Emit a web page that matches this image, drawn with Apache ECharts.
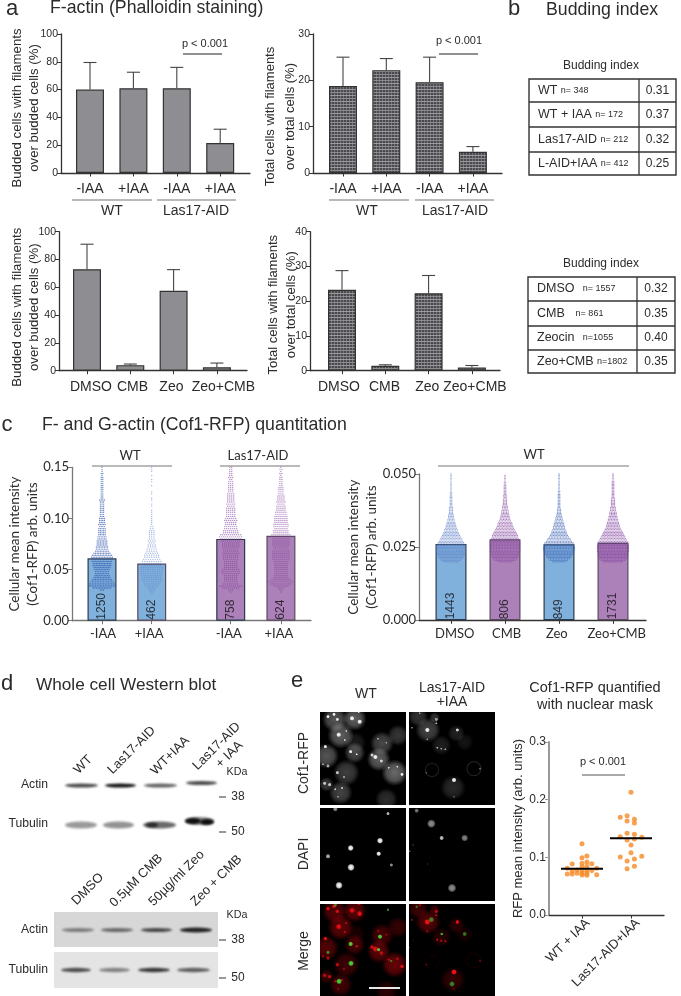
<!DOCTYPE html>
<html><head><meta charset="utf-8">
<style>html,body{margin:0;padding:0;background:#fff}#c{width:681px;height:996px}</style>
<script src="https://cdn.jsdelivr.net/npm/echarts@6/dist/echarts.min.js"></script>
</head><body><div id="c"></div>
<script>
// ---------- data ----------
const iaaLabels = ['-IAA','+IAA','-IAA','+IAA'];
const drugLabels = ['DMSO','CMB','Zeo','Zeo+CMB'];
const a1Values = [60,61,61,21.5];
const a1Tops   = [79.5,72.5,76,31.5];
const a2Values = [18.8,22.2,19.6,4.6];
const a2Tops   = [25,24.7,25,5.7];
const a3Values = [73,4,57.5,2.5];
const a3Tops   = [91,4.8,72.7,5.5];
const a4Values = [23.3,1.4,22.3,0.9];
const a4Tops   = [28.8,1.7,27.4,1.5];
const c1Values = [0.061,0.056,0.080,0.083];
const c1Counts = ['1250','462','758','624'];
const c2Values = [0.0261,0.0277,0.0260,0.0265];
const c2Counts = ['1443','806','849','1731'];
const tableA = [['WT','n= 348','0.31'],['WT + IAA','n= 172','0.37'],['Las17-AID','n= 212','0.32'],['L-AID+IAA','n= 412','0.25']];
const tableB = [['DMSO','  n= 1557','0.32'],['CMB','   n= 861','0.35'],['Zeocin','  n=1055','0.40'],['Zeo+CMB','n=1802','0.35']];
// dots in each swarm row, from 0.026 upward in 0.002 steps
const swarmWtMinus = [0,0,3,12,17,17,15,13,11,10,9,9,10,11,12,12,13,13,14,13,11,9,8,8,7,7,7,6,6,5,5,5,5,4,5,4,4,4,3,3,3,3,3,3,3,3,4,2,2,2,2,2,2,2,2,2,2,2,1,2,1,1,1];
const swarmWtPlus  = [1,2,3,4,6,7,8,9,9,9,10,10,10,10,9,9,9,8,7,7,6,5,5,4,4,3,4,3,3,3,3,3,2,2,1,1,1,1,1,1,1,1,0,1,1,0,1,1,0,1,1,0,0,1,0,1,1,0,1,0,1,1,1];
const swarmLasMinus= [0,1,3,9,12,8,7,7,7,7,9,10,9,7,7,7,7,8,8,8,9,8,8,9,9,9,10,11,12,11,8,8,7,7,6,6,7,6,5,5,5,5,5,4,5,4,4,4,4,4,3,3,3,3,3,3,2,3,2,2,2,2,2];
const swarmLasPlus = [0,1,2,4,8,11,13,10,8,7,7,7,7,7,7,7,8,9,9,9,9,9,8,8,9,9,9,9,10,10,8,8,7,8,8,7,7,7,7,6,6,5,5,5,4,5,4,4,4,3,3,3,3,2,2,2,2,2,1,2,1,2,1];
// dots in each swarm row, from 0.020 upward in 0.0005 steps
const swarmDmso = [10,13,15,16,17,18,19,20,20,19,19,20,18,17,16,15,14,13,12,11,10,9,9,8,7,7,6,6,5,5,4,4,4,3,3,3,3,3,2,2,2,2,2,2,2,2,1,2,1,1,1,1,1,1,1,1,1,1,1,1,1];
const swarmCmb  = [10,14,16,17,18,19,19,20,20,20,20,20,20,20,19,19,18,17,17,16,15,14,13,12,11,10,10,9,8,7,7,6,6,5,5,5,4,4,4,3,3,3,3,3,2,3,2,2,2,2,2,2,2,1,2,1,1,1,1,1,0];
const swarmZeo  = [9,12,14,16,17,18,20,20,21,21,21,20,20,19,17,16,15,13,12,11,10,10,9,8,8,7,7,6,6,5,5,4,4,3,3,3,3,2,2,2,2,2,2,2,2,2,2,1,2,1,1,1,1,1,1,1,1,1,1,1,1];
const swarmZeoCmb=[13,16,18,19,20,20,20,21,21,21,21,21,20,20,19,18,17,16,15,14,13,12,11,10,9,9,8,8,7,7,6,6,5,5,5,4,4,4,3,3,3,3,3,3,2,2,2,2,2,2,2,2,2,2,2,2,1,1,1,1,1];
const eLabels = ['WT + IAA','Las17-AID+IAA'];
const eMeans = [0.08,0.133];
const eWt = [[0,.1236],[.1,.1023],[0,.0994],[-.2,.0884],[.1,.0919],[0,.0896],[.2,.089],[0,.0838],[.1,.0844],[-.3,.081],[.3,.081],[-.2,.0764],[-.1,.0782],[.2,.077],[0,.077],[.1,.077],[-.3,.0712],[-.1,.0724],[0,.0724],[.1,.0724],[-.2,.0712],[.3,.07],[.1,.0689],[0,.0695]];
const eLas = [[1,.2128],[.78,.1694],[.92,.1722],[1.07,.166],[.92,.163],[1.07,.1595],[.78,.1358],[.92,.1417],[1.07,.14],[1.22,.1347],[.92,.13],[1.07,.1318],[1,.1214],[1,.108],[.78,.1006],[1.22,.1018],[1.07,.0971],[.92,.0936],[1.07,.0844],[.92,.0803]];

// ---------- style and layout ----------
const SANS = '"Liberation Sans", Arial, sans-serif';
const HUM = 'Lato, "Liberation Sans", sans-serif';
const GREY='#8e8e92', BLUE='#80b0dc', PURPLE='#ac80b8', ORANGE='#f58a26', INK='#2b2b2b';
const grids=[],xAxes=[],yAxes=[],series=[];

function hatch(){
  const c=document.createElement('canvas');c.width=3;c.height=6;
  const g=c.getContext('2d');
  g.fillStyle='#4a4a4e';g.fillRect(0,0,3,6);
  g.fillStyle='#77777b';g.fillRect(1,0,1,6);
  g.fillStyle='#8d8d91';g.fillRect(0,2,3,1);
  g.fillStyle='#9b9b9f';g.fillRect(0,5,3,1);
  return c;
}
const hatchFill={image:hatch(),repeat:'repeat'};

function panel(o){
  const i=grids.length;
  grids.push({left:o.x0,top:o.yTop,width:o.x1-o.x0,height:o.y0-o.yTop});
  const lp=o.labelPos||o.pos;
  xAxes.push({gridIndex:i,type:'value',min:(o.x0-o.c0)/o.step,max:(o.x1-o.c0)/o.step,
    splitLine:{show:false},
    axisLine:{onZero:false,lineStyle:{color:o.xLine||'#333',width:o.xLineW||1.3}},
    axisTick:{show:true,customValues:o.pos,length:3.5,lineStyle:{color:o.xLine||'#333'}},
    axisLabel:{customValues:lp,margin:o.xMargin||9,rotate:o.xRotate||0,
      color:INK,fontFamily:o.font||SANS,fontSize:o.xSize||14,
      formatter:v=>{let b=0;lp.forEach((p,k)=>{if(Math.abs(p-v)<Math.abs(lp[b]-v))b=k});return o.labels[b]}}});
  yAxes.push({gridIndex:i,type:'value',min:0,max:o.yMax,interval:o.yStep,
    splitLine:{show:false},
    axisLine:{onZero:false,show:true,lineStyle:{color:o.yLine||'#333',width:o.yLineW||1.3}},
    axisTick:{show:true,length:4,lineStyle:{color:o.yLine||'#333'}},
    axisLabel:{margin:o.yMargin||3,color:INK,fontFamily:o.font||SANS,fontSize:o.ySize||10.5,showMinLabel:true,showMaxLabel:true,
      formatter:o.yDec==null?undefined:(v=>v.toFixed(o.yDec))},
    name:o.name,nameLocation:'middle',nameRotate:90,nameGap:o.nameGap,nameMoveOverlap:false,
    nameTextStyle:{fontFamily:o.font||SANS,fontSize:o.nameSize||13.2,lineHeight:o.nameLH||17,color:INK,padding:o.namePad||0}});
  if(o.values){
    series.push({type:'bar',xAxisIndex:i,yAxisIndex:i,barWidth:o.barW,z:3,clip:false,
      data:o.values.map((v,k)=>({value:[o.pos[k],v],itemStyle:{color:o.colors?o.colors[k]:o.fill,
        borderColor:o.colors?['#2c3a4c','#5a4a60','#2c3a4c','#5a4a60'][k]:'#333',borderWidth:1.2}}))});
  }
  if(o.tops){
    series.push({type:'custom',xAxisIndex:i,yAxisIndex:i,z:2,clip:false,
      data:o.values.map((v,k)=>[o.pos[k],v,o.tops[k]]),
      renderItem:(p,api)=>{
        const a=api.coord([api.value(0),api.value(1)]),b=api.coord([api.value(0),api.value(2)]);
        const st={stroke:'#444',lineWidth:1.1};
        return {type:'group',children:[
          {type:'line',shape:{x1:a[0],y1:a[1],x2:b[0],y2:b[1]},style:st},
          {type:'line',shape:{x1:b[0]-6.5,y1:b[1],x2:b[0]+6.5,y2:b[1]},style:st}]};
      }});
  }
  return i;
}
function swarm(i,center,counts,base,step,pitch,color,size,opacity){
  const pts=[];
  counts.forEach((n,r)=>{for(let k=0;k<n;k++)pts.push([center+(k-(n-1)/2)*pitch,base+r*step])});
  series.push({type:'scatter',xAxisIndex:i,yAxisIndex:i,z:4,silent:true,clip:false,symbolSize:size,data:pts,
    itemStyle:{color,opacity}});
}
function counts(i,pos,txt){
  series.push({type:'scatter',xAxisIndex:i,yAxisIndex:i,z:6,silent:true,symbolSize:0,
    data:pos.map((p,k)=>[p,0]),
    label:{show:true,position:'top',distance:1,rotate:90,align:'left',verticalAlign:'middle',
      color:'#111',fontFamily:SANS,fontSize:12,formatter:q=>txt[q.dataIndex]}});
}

const four=[0,1,2,3];
panel({x0:61,x1:250,yTop:34,y0:173,c0:90,step:43.4,pos:four,labels:iaaLabels,values:a1Values,tops:a1Tops,fill:GREY,barW:28,
  yMax:100,yStep:20,name:'Budded cells with filaments\nover budded cells (%)',nameGap:18,namePad:[0,9,0,0]});
panel({x0:313,x1:502,yTop:34,y0:173,c0:343,step:43.3,pos:four,labels:iaaLabels,values:a2Values,tops:a2Tops,fill:hatchFill,barW:28,
  yMax:30,yStep:10,name:'Total cells with filaments\nover total cells (%)',nameSize:13,nameGap:13,nameLH:19.5,namePad:[0,26,0,0]});
panel({x0:59,x1:247,yTop:231.7,y0:370.7,c0:87,step:43.3,pos:four,labelPos:[.09,1.05,1.95,3.15],labels:drugLabels,values:a3Values,tops:a3Tops,fill:GREY,barW:28,
  yMax:100,yStep:20,name:'Budded cells with filaments\nover budded cells (%)',nameGap:16,namePad:[0,12,0,0]});
panel({x0:310,x1:500,yTop:231.7,y0:370.7,c0:342,step:43.3,pos:four,labelPos:[-.07,-.02+1,1.97,3.07],labels:drugLabels,values:a4Values,tops:a4Tops,fill:hatchFill,barW:28,
  yMax:40,yStep:10,name:'Total cells with filaments\nover total cells (%)',nameSize:13,nameGap:10,nameLH:18,namePad:[0,7,0,0]});

const c1Pos=[0,1,2.59,3.6];
const c1=panel({x0:72,x1:311,yTop:467.3,y0:620.7,c0:102,step:49.7,pos:c1Pos,labelPos:[.02,.95,2.55,3.56],labels:iaaLabels,values:c1Values,colors:[BLUE,BLUE,PURPLE,PURPLE],barW:29,
  yMax:0.15,yStep:0.05,yDec:2,font:HUM,xSize:13,ySize:13,xMargin:7,xLine:'#777',yLine:'#777',name:'Cellular mean intensity\n(Cof1-RFP) arb. units',nameSize:13.5,nameLH:18,nameGap:30,namePad:[0,0,0,0]});
[[swarmWtMinus,'#2f55ab',1.6,.7,1.4],[swarmWtPlus,'#5a7cc6',2.3,.55,1.4],[swarmLasMinus,'#813f99',2.0,.6,1.4],[swarmLasPlus,'#813f99',2.0,.6,1.4]]
  .forEach((s,k)=>swarm(c1,c1Pos[k],s[0],0.026,0.002,s[2]/49.7,s[1],s[4],s[3]));
counts(c1,c1Pos,c1Counts);

const c2Pos=four;
const c2=panel({x0:419,x1:646,yTop:474,y0:620.3,c0:451,step:54,pos:c2Pos,labelPos:[.07,1.03,1.96,3.07],labels:drugLabels,values:c2Values,colors:[BLUE,PURPLE,BLUE,PURPLE],barW:31,
  yMax:0.05,yStep:0.025,yDec:3,font:HUM,xSize:13,ySize:13,xMargin:7,xLine:'#333',yLine:'#777',name:'Cellular mean intensity\n(Cof1-RFP) arb. units',nameSize:13.5,nameLH:18,nameGap:38,namePad:[0,0,0,0]});
[[swarmDmso,'#5c7cc6'],[swarmCmb,'#8547a0'],[swarmZeo,'#3d62b4'],[swarmZeoCmb,'#7d3d9d']]
  .forEach((s,k)=>swarm(c2,c2Pos[k],s[0],0.020,0.0005,1.55/54,s[1],1.3,.7));
counts(c2,c2Pos,c2Counts);

const e=panel({x0:549,x1:664,yTop:742,y0:915,c0:582,step:49,pos:[0,1],labelPos:[.12,1.14],labels:eLabels,xRotate:45,xSize:13,xMargin:6,
  yMax:0.3,yStep:0.1,yDec:1,ySize:12,yLine:'#999',yLineW:2,name:'RFP mean intensity (arb. units)',nameSize:13,nameGap:22});
series.push({type:'scatter',xAxisIndex:e,yAxisIndex:e,z:3,symbolSize:5,data:eWt.concat(eLas),itemStyle:{color:ORANGE}});
series.push({type:'custom',xAxisIndex:e,yAxisIndex:e,z:4,data:eMeans.map((m,k)=>[k,m]),
  renderItem:(p,api)=>{const a=api.coord([api.value(0),api.value(1)]);
    return {type:'line',shape:{x1:a[0]-21,y1:a[1],x2:a[0]+21,y2:a[1]},style:{stroke:'#000',lineWidth:2}}}});

// ---------- photographs (blots and micrographs), painted once on a canvas ----------
const CofWtCells=[[50,30,38,.38],[110,28,36,.42],[68,78,40,.42],[192,102,36,.32],[240,78,32,.24],[110,130,32,.32],[25,140,38,.38],[182,150,36,.42],[230,190,40,.46],[85,190,40,.28],[68,250,36,.3],[205,270,34,.2],[25,225,22,.26],[112,100,32,.12]];
const CofWtSpots=[[30,22,3,1],[48,15,3,1],[58,30,3,.9],[102,27,4,1],[125,37,4,1],[122,8,2,.9],[62,76,4,1],[80,92,2,.8],[85,65,2,.7],[22,112,3,1],[98,127,3,1],[116,135,2,.9],[172,143,4,1],[162,137,3,.9],[190,155,3,.8],[252,195,3,1],[238,172,2,.8],[212,175,2,.8],[58,190,3,.8],[78,203,2,.6],[20,222,3,.8],[35,226,3,.8],[52,240,2,.8],[72,236,2,.7],[60,262,2,.5],[30,170,3,.7],[15,165,2,.6],[180,88,2,.6],[205,100,2,.5]];
const CofLasCells=[[330,62,38,.3],[300,22,30,.22],[350,25,16,.22],[370,108,30,.14],[415,72,26,.15],[440,98,26,.09],[405,235,38,.18]];
const CofLasRings=[[342,182,20,.1],[468,178,21,.12]];
const CofLasSpots=[[328,62,4,1],[418,62,3,.9],[282,55,2,.5],[355,30,3,.6],[358,115,2,.7],[370,118,2,.6],[382,120,2,.6],[408,212,4,1],[355,42,2,.7],[328,90,2,.5],[305,12,2,.5],[408,262,2,.3],[486,178,2,.4],[325,190,2,.3]];
const DapiWt=[[52,298,4,.6],[210,312,3,.8],[186,393,5,1],[98,415,5,1],[182,432,4,1],[30,440,4,.7],[99,473,6,1],[220,466,3,.6],[63,527,6,1]];
const DapiLas=[[296,303,6,.6],[340,342,11,.7],[371,385,6,1],[440,385,9,.65],[275,425,3,.5],[328,463,2,.4],[402,535,11,.7],[285,405,4,.15]];

function photos(){
  const c=document.createElement('canvas');c.width=681;c.height=996;
  const g=c.getContext('2d');
  const col=[320,409],rows=[712,808,904],pw=86,ph=[93,93,92];
  const zc=[6,273],zr=[8,295];
  function box(x,y,h,f){
    g.save();g.beginPath();g.rect(x,y,pw,h);g.clip();g.fillStyle='#000';g.fillRect(x,y,pw,h);g.filter='blur(0.7px)';f();g.restore();
  }
  function blobs(list,ox,oy,zx,zy,rgb,k,hard){
    list.forEach(([a,b,r,v])=>{
      const x=ox+(a-zx)/3,y=oy+(b-zy)/3,R=r/3*(hard||1);
      const gr=g.createRadialGradient(x,y,0,x,y,R);
      const o=v*k;
      gr.addColorStop(0,`rgba(${rgb},${o})`);
      gr.addColorStop(.6,`rgba(${rgb},${o*(hard?.8:.75)})`);
      gr.addColorStop(1,`rgba(${rgb},0)`);
      g.fillStyle=gr;g.beginPath();g.arc(x,y,R,0,7);g.fill();
    });
  }
  function rings(list,ox,oy,zx,zy,rgb){
    list.forEach(([a,b,r,v])=>{g.strokeStyle=`rgba(${rgb},${v})`;g.lineWidth=1.2;g.beginPath();g.arc(ox+(a-zx)/3,oy+(b-zy)/3,r/3,0,7);g.stroke()});
  }
  const W='255,255,255',R='240,15,20',G='70,220,60',DR='150,5,10';
  box(col[0],rows[0],ph[0],()=>{blobs(CofWtCells,col[0],rows[0],zc[0],zr[0],W,.9);blobs(CofWtSpots,col[0],rows[0],zc[0],zr[0],W,1,1.9)});
  box(col[1],rows[0],ph[0],()=>{blobs(CofLasCells,col[1],rows[0],zc[1],zr[0],W,.9);rings(CofLasRings,col[1],rows[0],zc[1],zr[0],W);blobs(CofLasSpots,col[1],rows[0],zc[1],zr[0],W,1,1.9)});
  box(col[0],rows[1],ph[1],()=>blobs(DapiWt,col[0],rows[1],zc[0],zr[1],W,1,1.9));
  box(col[1],rows[1],ph[1],()=>blobs(DapiLas,col[1],rows[1],zc[1],zr[1],W,.8,1.2));
  box(col[0],rows[2],ph[2],()=>{blobs(CofWtCells,col[0],rows[2],zc[0],zr[0],DR,1.5);blobs(CofWtSpots,col[0],rows[2],zc[0],zr[0],R,1,2.2);blobs(DapiWt,col[0],rows[2],zc[0],zr[1],G,1,1.5)});
  box(col[1],rows[2],ph[2],()=>{blobs(CofLasCells,col[1],rows[2],zc[1],zr[0],DR,1.9);rings(CofLasRings,col[1],rows[2],zc[1],zr[0],DR);blobs(CofLasSpots,col[1],rows[2],zc[1],zr[0],R,1.2,2.2);blobs(DapiLas,col[1],rows[2],zc[1],zr[1],G,.9,.8)});
  g.fillStyle='#e8e8e8';g.fillRect(369,987,31,2);

  // western blots
  g.fillStyle='#d7d7d7';g.fillRect(54,912,164,35);
  g.fillStyle='#e4e4e4';g.fillRect(54,952,164,36);
  g.save();g.filter='blur(1px)';
  const band=(x1,x2,y,h,v)=>{g.fillStyle=`rgba(15,15,15,${v})`;g.beginPath();g.ellipse((x1+x2)/2,y,(x2-x1)/2,h/2,0,0,7);g.fill()};
  [[65,98,.75],[105,136,.98],[144,177,.65]].forEach(b=>band(b[0],b[1],785.5,4,b[2]));
  band(186,217,783,4,.75);
  [[65,97,.42],[103,134,.45],[143,176,.62]].forEach(b=>band(b[0],b[1],825,7,b[2]));
  band(146,158,825,5,.7);band(185,201,821,6,1);band(200,214,822,6,1);band(185,214,821,8,.5);
  [[62,94,.45],[101,133,.55],[141,172,.72],[180,212,.9]].forEach(b=>band(b[0],b[1],930,b[2]>.8?5:4,b[2]));
  [[61,91,.7],[99,130,.45],[138,170,.8],[177,210,.62]].forEach(b=>band(b[0],b[1],970,4.5,b[2]));
  g.restore();
  return c;
}

// ---------- annotation helpers ----------
const gfx=[{type:'image',z:0,style:{image:photos(),x:0,y:0,width:681,height:996},silent:true}];
function T(text,x,y,size,o){o=o||{};
  gfx.push({type:'text',z:5,x,y,rotation:(o.rot||0)*Math.PI/180,silent:true,
    style:{text,fill:o.fill||INK,fontFamily:o.font||SANS,fontSize:size,align:o.align||'center',verticalAlign:'middle'}});
}
function L(x1,y1,x2,y2,stroke,w){
  gfx.push({type:'line',z:5,silent:true,shape:{x1,y1,x2,y2},style:{stroke:stroke||'#444',lineWidth:w||1.2}});
}
// panel letters and titles
T('a',12,9,22);T('F-actin (Phalloidin staining)',50,8,17.7,{align:'left'});
T('b',514,9,22);T('Budding index',546,10,17.7,{align:'left'});
T('c',7,425,22);T('F- and G-actin (Cof1-RFP) quantitation',42,425,17.7,{align:'left'});
T('d',7,684,22);T('Whole cell Western blot',36,685,17.2,{align:'left'});
T('e',297,681,22);
// group rules in panel a
[[72,152,112,'WT'],[157,236,196,'Las17-AID'],[329,409,367,'WT'],[415,494,455,'Las17-AID']].forEach(r=>{
  L(r[0],200,r[1],200,'#777',1.1);T(r[3],r[2],211,14);
});
T('p < 0.001',205,44,11);L(183,54,222,54,'#222',1.1);
T('p < 0.001',459,41,11);L(439,54,478,54,'#222',1.1);
// group rules in panel c
L(92,466,172,466,'#777',1.2);T('WT',130,456,13,{font:HUM});
L(220,466,300,466,'#777',1.2);T('Las17-AID',258,456,13,{font:HUM});
L(438,466,629,466,'#777',1.2);T('WT',534,455,13,{font:HUM});
// budding index tables
function table(rows,x0,x1,xd,y0,y1,lines,titleY){
  T('Budding index',601,titleY,12);
  gfx.push({type:'rect',z:5,silent:true,shape:{x:x0,y:y0,width:x1-x0,height:y1-y0},style:{fill:'none',stroke:'#333',lineWidth:1.4}});
  L(xd,y0,xd,y1,'#333',1.3);
  lines.forEach(y=>L(x0,y,x1,y,'#333',1.3));
  const edges=[y0].concat(lines,[y1]);
  rows.forEach((r,k)=>{
    const y=(edges[k]+edges[k+1])/2;
    gfx.push({type:'text',z:5,x:x0+9,y,silent:true,style:{text:`{a|${r[0]}} {b|${r[1]}}`,align:'left',verticalAlign:'middle',
      rich:{a:{fontFamily:SANS,fontSize:12.5,fill:INK},b:{fontFamily:SANS,fontSize:9,fill:INK}}}});
    T(r[2],(xd+x1)/2,y,12);
  });
}
table(tableA,529,676,639,79,175,[102,127,152],66);
table(tableB,528,675,637,277,373,[301,326,350],264);
// panel d
[['Actin',785],['Tubulin',824],['Actin',930],['Tubulin',970]].forEach(r=>T(r[0],48,r[1],12.2,{align:'right'}));
[['KDa',237,772],['KDa',237,915]].forEach(r=>T(r[0],r[1],r[2],10.7));
[['38',797],['50',832],['38',940],['50',978]].forEach(r=>{L(219,r[1],226,r[1],'#333',1);T(r[0],238,r[1],12)});
[['WT',76,772],['Las17-AID',110,772],['WT+IAA',153,773],['Las17-AID',195,768],['+ IAA',218,766],
 ['DMSO',74,903],['0.5µM CMB',112,905],['50µg/ml Zeo',151,904],['Zeo + CMB',193,904]]
 .forEach(r=>T(r[0],r[1],r[2],13,{align:'left',rot:45}));
// panel e
T('WT',366,694,14);T('Las17-AID',452,688,14);T('+IAA',452,702,14);
T('Cof1-RFP',304,763,14,{rot:90});T('DAPI',304,854,14,{rot:90});T('Merge',304,951,14,{rot:90});
T('Cof1-RFP quantified',595,688,14.5);T('with nuclear mask',595,705,14.5);
T('p < 0.001',603,762,11);L(582,775,625,775,'#555',1.1);

const chart=echarts.init(document.getElementById('c'),null,{renderer:'canvas'});
chart.setOption({animation:false,backgroundColor:'#fff',grid:grids,xAxis:xAxes,yAxis:yAxes,series,graphic:{elements:gfx}});
</script></body></html>
